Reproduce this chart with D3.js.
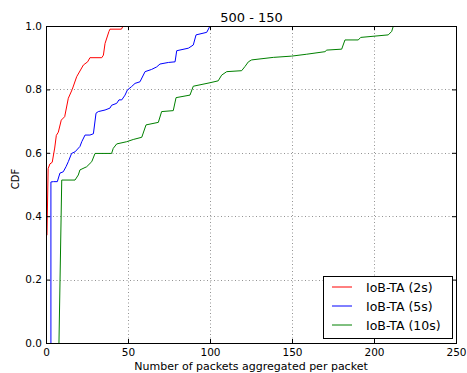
<!DOCTYPE html>
<html>
<head>
<meta charset="utf-8">
<script src="https://cdn.jsdelivr.net/npm/d3@7"></script>
<style>
  html, body { margin: 0; padding: 0; background: #fff; }
  text { font-family: "DejaVu Sans", sans-serif; fill: #000; }
</style>
</head>
<body>
<svg id="chart" width="467" height="373"></svg>
<script>
// Empirical CDFs of packets aggregated per packet, one per aggregation window
const seriesNames = ["IoB-TA (2s)", "IoB-TA (5s)", "IoB-TA (10s)"];
const seriesColors = ["#ff0000", "#0000ff", "#008000"];

const x2s = [0.6, 1.3, 2.4, 3.8, 5.3, 6.3, 7.5, 9.3, 11.4, 13.6, 16, 18.7, 22.8, 25.4, 26.8, 34, 35, 36, 38.4, 39, 46, 47];
const y2s = [0.34, 0.55, 0.565, 0.57, 0.615, 0.655, 0.665, 0.703, 0.714, 0.772, 0.80, 0.84, 0.877, 0.887, 0.90, 0.90, 0.908, 0.945, 0.983, 0.99, 0.99, 1.0];

const x5s = [3, 3, 4.5, 6.9, 8.5, 10.5, 12.2, 13.6, 15.6, 17.7, 20.7, 21.8, 23.8, 26.8, 28.9, 30.5, 31.9, 36, 39, 40, 43.1, 44.5, 46.2, 48.2, 49.6, 52.2, 54.3, 57.3, 60.4, 64.4, 67.5, 69.5, 74.6, 78.7, 79.7, 86.8, 89.8, 91.5, 98, 100];
const y5s = [0, 0.508, 0.509, 0.509, 0.536, 0.54, 0.556, 0.572, 0.598, 0.603, 0.62, 0.635, 0.656, 0.656, 0.66, 0.725, 0.73, 0.735, 0.741, 0.75, 0.756, 0.767, 0.767, 0.782, 0.798, 0.809, 0.819, 0.824, 0.856, 0.863, 0.871, 0.88, 0.885, 0.887, 0.922, 0.93, 0.94, 0.972, 0.98, 1.0];

const x10s = [7.9, 9.6, 17.7, 19.7, 20.7, 24.8, 27.9, 29.9, 40, 41, 43.1, 49.2, 53.2, 58.4, 61, 68.5, 70.5, 77.6, 79.3, 87.8, 89.8, 100, 105, 107.1, 110.2, 119.3, 121.3, 123.4, 125.4, 138.6, 149.8, 159, 170.1, 171.2, 180.3, 182.3, 190.4, 191.9, 208.7, 210.8, 211.8];
const y10s = [0, 0.514, 0.514, 0.53, 0.546, 0.556, 0.572, 0.598, 0.598, 0.614, 0.628, 0.635, 0.642, 0.649, 0.688, 0.696, 0.73, 0.733, 0.774, 0.782, 0.81, 0.821, 0.827, 0.845, 0.856, 0.859, 0.872, 0.887, 0.893, 0.901, 0.905, 0.911, 0.919, 0.924, 0.927, 0.956, 0.956, 0.964, 0.972, 0.983, 1.0];

const xTicks = [0, 50, 100, 150, 200, 250];
const yTicks = [0, 0.2, 0.4, 0.6, 0.8, 1.0];

const title = "500 - 150";
const xLabel = "Number of packets aggregated per packet";
const yLabel = "CDF";

const series = [
  { name: seriesNames[0], color: seriesColors[0], xs: x2s, ys: y2s },
  { name: seriesNames[1], color: seriesColors[1], xs: x5s, ys: y5s },
  { name: seriesNames[2], color: seriesColors[2], xs: x10s, ys: y10s }
];

const margin = { left: 46, top: 26, right: 11, bottom: 30 };
const W = 467, H = 373;
const iw = W - margin.left - margin.right;
const ih = H - margin.top - margin.bottom;

const svg = d3.select("#chart");
const g = svg.append("g").attr("transform", `translate(${margin.left},${margin.top})`);

const x = d3.scaleLinear().domain([0, 250]).range([0, iw]);
const y = d3.scaleLinear().domain([0, 1]).range([ih, 0]);

// dotted grid
g.append("g").selectAll("line.gx").data(xTicks).join("line")
  .attr("x1", d => x(d) + 0.5).attr("x2", d => x(d) + 0.5)
  .attr("y1", 0).attr("y2", ih)
  .attr("stroke", "#777").attr("stroke-width", 0.8).attr("stroke-dasharray", "1,2.5");
g.append("g").selectAll("line.gy").data(yTicks).join("line")
  .attr("y1", d => Math.round(y(d)) + 0.5).attr("y2", d => Math.round(y(d)) + 0.5)
  .attr("x1", 0).attr("x2", iw)
  .attr("stroke", "#777").attr("stroke-width", 0.8).attr("stroke-dasharray", "1,2.5");

// curves
const line = d3.line().x(d => x(d[0])).y(d => y(d[1]));
series.forEach(s => {
  const pts = s.xs.map((v, i) => [v, s.ys[i]]);
  g.append("path").datum(pts)
    .attr("d", line)
    .attr("fill", "none")
    .attr("stroke", s.color)
    .attr("stroke-width", 1);
});

// axes with inward ticks on all four sides
const fmt = d3.format(".1f");
const axB = g.append("g").attr("transform", `translate(0,${ih})`)
  .call(d3.axisBottom(x).tickValues(xTicks).tickSizeInner(-4).tickSizeOuter(0).tickPadding(6).tickFormat(d3.format("d")));
const axT = g.append("g")
  .call(d3.axisTop(x).tickValues(xTicks).tickSizeInner(-4).tickSizeOuter(0).tickFormat(""));
const axL = g.append("g")
  .call(d3.axisLeft(y).tickValues(yTicks).tickSizeInner(-4).tickSizeOuter(0).tickPadding(4).tickFormat(fmt));
const axR = g.append("g").attr("transform", `translate(${iw},0)`)
  .call(d3.axisRight(y).tickValues(yTicks).tickSizeInner(-4).tickSizeOuter(0).tickFormat(""));
[axB, axT, axL, axR].forEach(a => {
  a.select(".domain").remove();
  a.selectAll("line").attr("stroke", "#000");
  a.selectAll("text").style("font-family", "DejaVu Sans").style("font-size", "10.5px").attr("fill", "#000");
});

// frame
g.append("rect").attr("x", 0.5).attr("y", 0.5).attr("width", iw).attr("height", ih)
  .attr("fill", "none").attr("stroke", "#000").attr("stroke-width", 1);

// labels
svg.append("text").attr("x", margin.left + iw / 2 + 0.5).attr("y", 22)
  .attr("text-anchor", "middle").style("font-size", "13px").text(title);
svg.append("text").attr("x", 251).attr("y", 369.5)
  .attr("text-anchor", "middle").style("font-size", "11px").text(xLabel);
svg.append("text").attr("transform", `translate(18.5,179) rotate(-90)`)
  .attr("text-anchor", "middle").style("font-size", "10px").text(yLabel);

// legend
const lg = svg.append("g").attr("transform", "translate(323.5,276.5)");
lg.append("rect").attr("width", 129).attr("height", 62)
  .attr("fill", "#fff").attr("stroke", "#000").attr("stroke-width", 1);
series.forEach((s, i) => {
  const yy = 10.5 + i * 19;
  lg.append("line").attr("x1", 8.5).attr("x2", 28.5).attr("y1", yy).attr("y2", yy)
    .attr("stroke", s.color).attr("stroke-width", 1);
  lg.append("text").attr("x", 42.5).attr("y", yy).attr("dy", "0.36em")
    .style("font-size", "12.5px").text(s.name);
});
</script>
</body>
</html>
